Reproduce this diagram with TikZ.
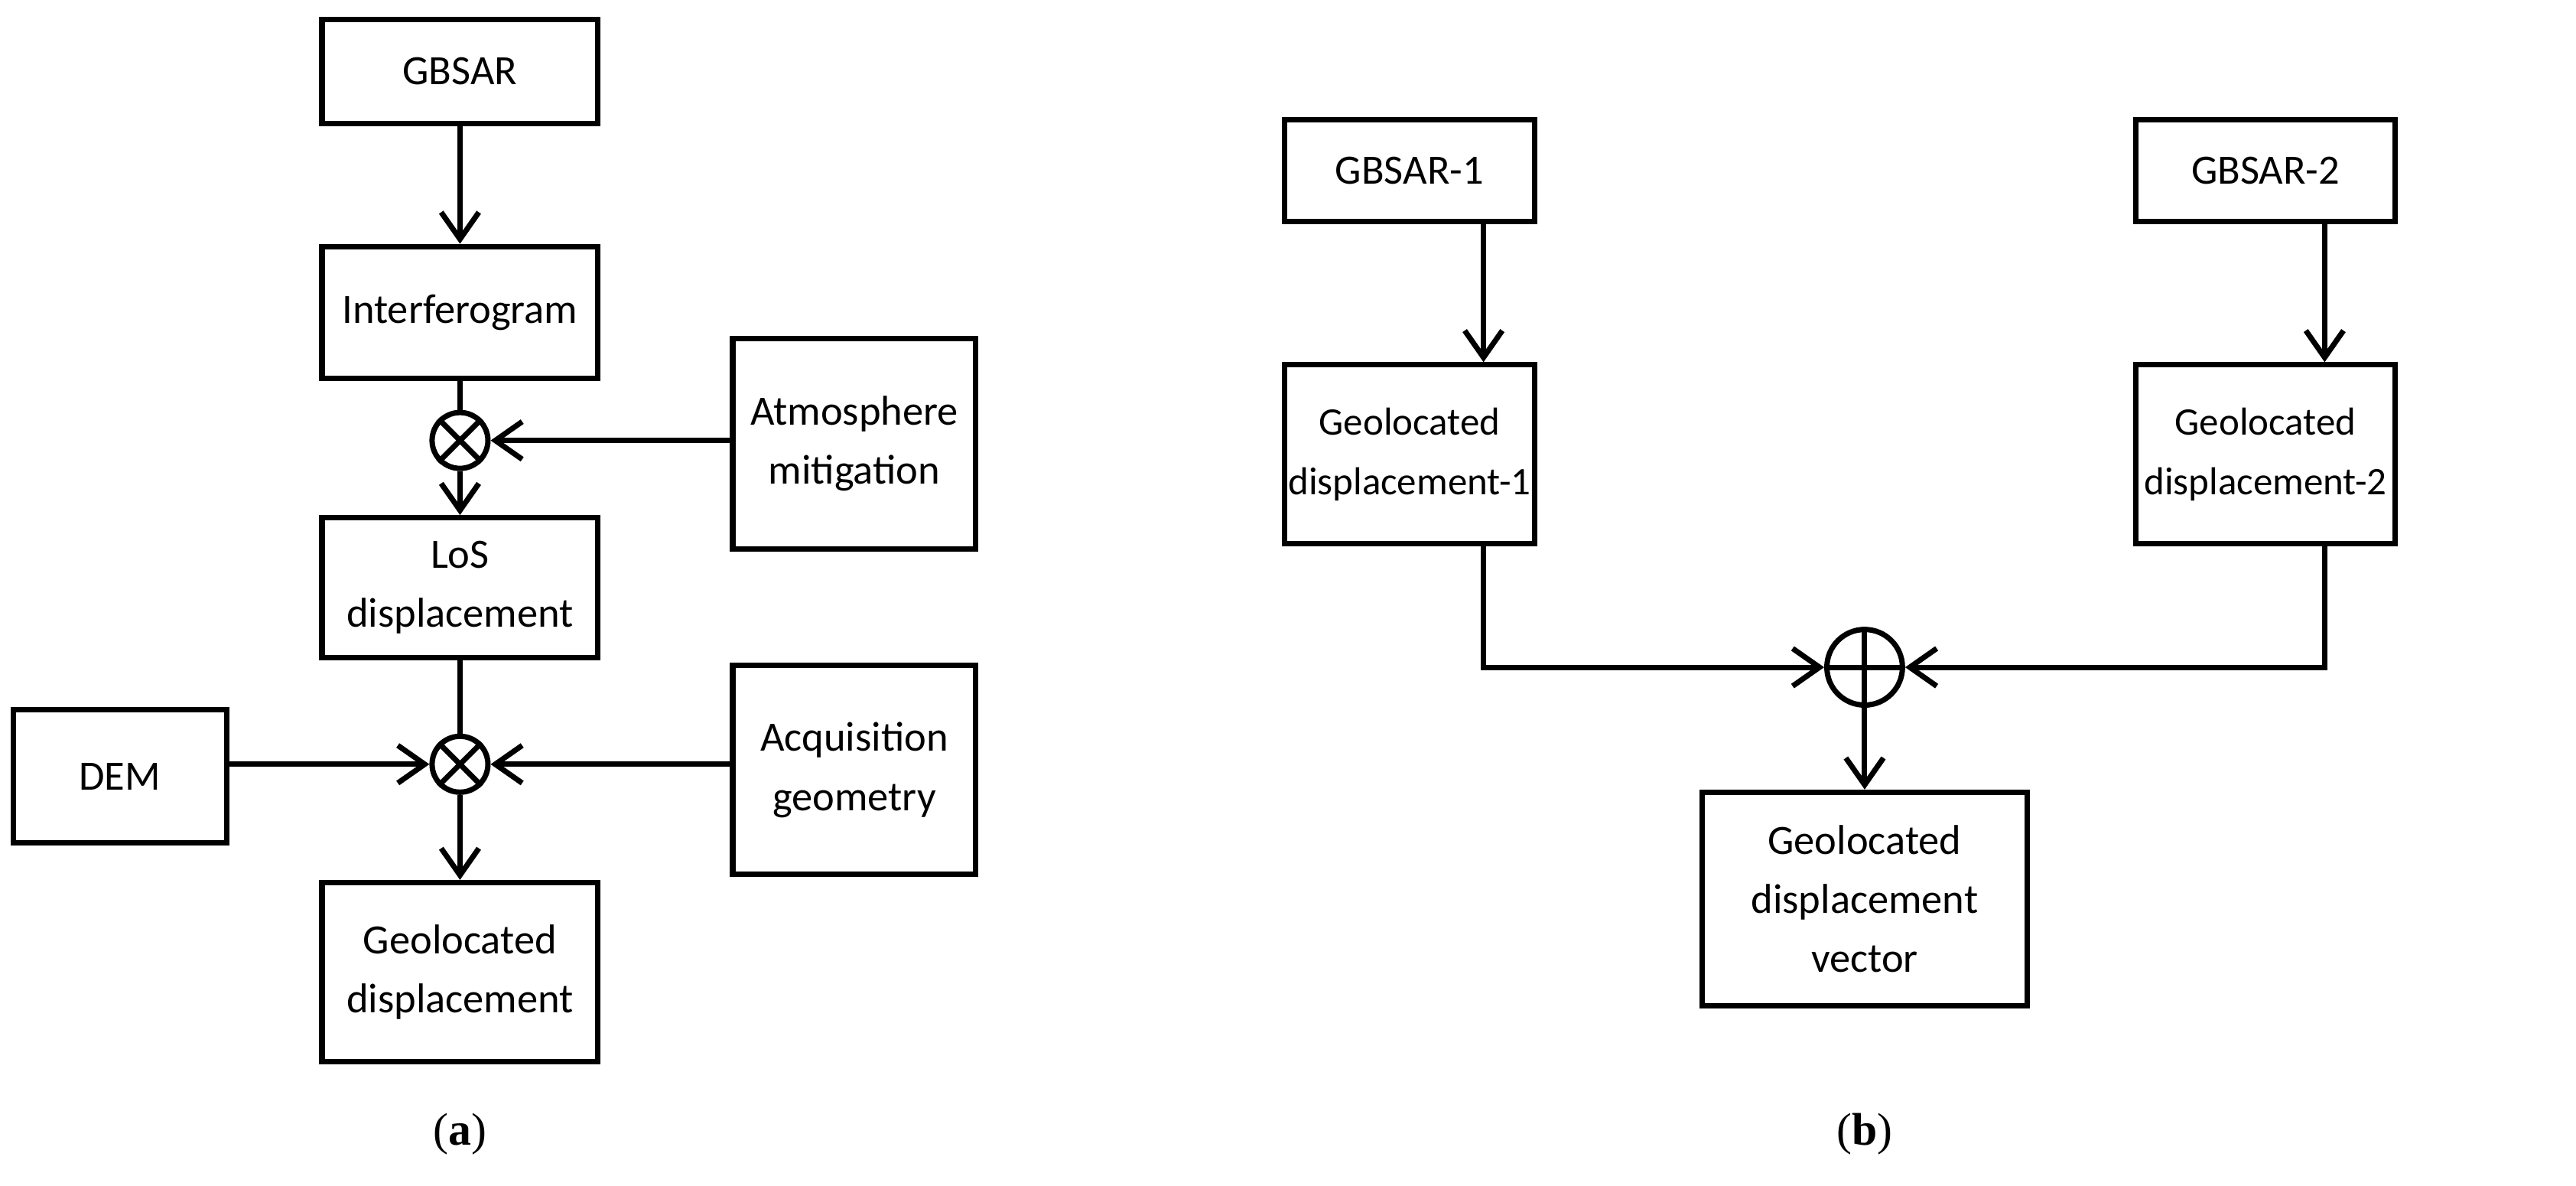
\documentclass[tikz,border=0pt]{standalone}
\usepackage{fontspec}
\setmainfont{Carlito}
\newfontfamily\serifl{Liberation Serif}
\usetikzlibrary{arrows.meta}
\begin{document}
\begin{tikzpicture}[x=0.02148cm,y=-0.02148cm,
  box/.style={draw,line width=2pt,align=center,font=\fontsize{15.5}{22}\selectfont,inner sep=0pt},
  op/.style={draw,circle,line width=2pt,minimum size=34*0.02148cm,inner sep=0pt},
  ln/.style={line width=2pt},
  ar/.style={ln,-{Straight Barb[length=10pt,width=14pt,line width=2pt]}},
  lab/.style={font=\serifl\fontsize{17}{20}\selectfont}]
\useasboundingbox (0,0) rectangle (1568,721.6);
\newcommand\bx[6]{\node[box,minimum width=(#4-#2)*0.02148cm,minimum height=(#5-#3)*0.02148cm] (#1) at ({(#2+#4)/2},{(#3+#5)/2}) {#6};}
\bx{g}{196}{12}{364}{75}{GBSAR}
\bx{i}{196}{150}{364}{230}{Interferogram}
\bx{at}{446}{206}{594}{334}{Atmosphere\\mitigation}
\bx{los}{196}{315}{364}{400}{LoS\\displacement}
\bx{dem}{8}{432}{138}{513}{DEM}
\bx{acq}{446}{405}{594}{532}{Acquisition\\geometry}
\bx{gd}{196}{537}{364}{646}{Geolocated\\displacement}
\node[op] (o1) at (280,268) {};
\node[op] (o2) at (280,465) {};
\draw[ln] (o1.45)--(o1.225) (o1.135)--(o1.315);
\draw[ln] (o2.45)--(o2.225) (o2.135)--(o2.315);
\draw[ar] (g)--(i);
\draw[ln] (i)--(o1);
\draw[ar] (o1)--(los);
\draw[ar] (at.west|-o1)--(o1);
\draw[ln] (los)--(o2);
\draw[ar] (dem.east|-o2)--(o2);
\draw[ar] (acq.west|-o2)--(o2);
\draw[ar] (o2)--(gd);
\node[lab] (la) at (280,690) {(\textbf{a})};
\bx{g1}{782}{73}{934}{135}{GBSAR-1}
\bx{g2}{1300}{73}{1458}{135}{GBSAR-2}
\bx{d1}{782}{222}{934}{331}{\fontsize{14.5}{22}\selectfont Geolocated\\\fontsize{14.5}{22}\selectfont displacement-1}
\bx{d2}{1300}{222}{1458}{331}{\fontsize{14.5}{22}\selectfont Geolocated\\\fontsize{14.5}{22}\selectfont displacement-2}
\bx{v}{1036}{482}{1234}{612}{Geolocated\\displacement\\vector}
\node[op,minimum size=46*0.02148cm] (o3) at (1135,406) {};
\draw[ln] (o3.north)--(o3.south) (o3.west)--(o3.east);
\coordinate (c1) at (903,406);
\coordinate (c2) at (1415,406);
\draw[ar] (g1.south-|c1)--(d1.north-|c1);
\draw[ar] (g2.south-|c2)--(d2.north-|c2);
\draw[ar] (d1.south-|c1)--(c1)--(o3);
\draw[ar] (d2.south-|c2)--(c2)--(o3);
\draw[ar] (o3)--(v);
\node[lab] (lb) at (1135,690) {(\textbf{b})};
\end{tikzpicture}
\end{document}
